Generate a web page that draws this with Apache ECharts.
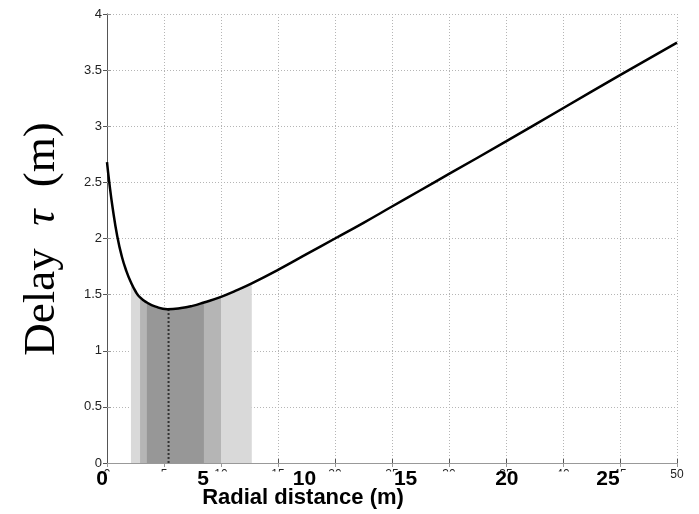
<!DOCTYPE html>
<html>
<head>
<meta charset="utf-8">
<script src="https://cdn.jsdelivr.net/npm/echarts@6/dist/echarts.min.js"></script>
<style>
  html, body { margin: 0; padding: 0; background: #fff; }
  #chart { width: 699px; height: 514px; }
</style>
</head>
<body>
<div id="chart"></div>
<script>
// delay curve
const radialX = [0, 0.2, 0.5, 0.9, 1.3, 1.7, 2.1, 2.5, 2.9, 3.5, 4.2, 5.3, 6.5, 7.5, 8.5, 10, 11.3, 12.7, 15, 17.5, 20, 22.5, 25, 27.5, 30, 35, 40, 45, 50];
const delayY = [2.68, 2.5, 2.27, 2.02, 1.84, 1.71, 1.61, 1.53, 1.475, 1.43, 1.395, 1.37, 1.38, 1.4, 1.43, 1.48, 1.535, 1.6, 1.72, 1.86, 2.0, 2.14, 2.285, 2.43, 2.575, 2.865, 3.16, 3.455, 3.745];

// shaded ranges under the curve [from, to]
const bandLight = [2.1, 12.7];
const bandMid = [2.9, 10];
const bandDark = [3.5, 8.5];
const minMarkerX = 5.4;
const minMarkerY = 1.37;

const yTicks = [0, 0.5, 1, 1.5, 2, 2.5, 3, 3.5, 4];
const boldTicks = ['0', '5', '10', '15', '20', '25'];

const curve = radialX.map((x, i) => [x, delayY[i]]);
const band = (r) => curve.filter(p => p[0] >= r[0] && p[0] <= r[1]);

const myChart = echarts.init(document.getElementById('chart'));

const gridLine = { show: true, lineStyle: { color: '#b5b5b5', type: [1, 2], width: 1 } };
const areaSeries = (data, color) => ({
  type: 'line', data, smooth: 0.5, symbol: 'none', silent: true,
  lineStyle: { width: 0 }, areaStyle: { color, opacity: 1 }, z: 1
});

myChart.setOption({
  animation: false,
  grid: [
    { left: 107, right: 22, top: 14, bottom: 51 },
    { left: 102, right: 27, top: 14, bottom: 51 }
  ],
  xAxis: [
    {
      gridIndex: 0, type: 'value', min: 0, max: 50, interval: 5,
      axisLine: { lineStyle: { color: '#555' } },
      axisTick: { inside: true, length: 4, lineStyle: { color: '#555' } },
      axisLabel: { color: '#222', fontSize: 12, margin: 6, fontFamily: 'Liberation Sans' },
      splitLine: gridLine
    },
    {
      gridIndex: 0, type: 'value', position: 'top', min: 0, max: 50, interval: 5,
      axisLine: { lineStyle: { color: '#999' } },
      axisTick: { inside: true, length: 4, lineStyle: { color: '#999' } },
      axisLabel: { show: false }, splitLine: { show: false }
    },
    {
      gridIndex: 1, type: 'value', min: 0, max: 28.16, interval: 5, z: 50,
      axisLine: { show: false }, axisTick: { show: false }, splitLine: { show: false },
      axisLabel: {
        showMaxLabel: false, margin: 6, color: '#000', fontSize: 21, fontWeight: 'bold',
        fontFamily: 'Liberation Sans',
        formatter: (v) => boldTicks.includes(String(v)) ? String(v) : ''
      }
    }
  ],
  yAxis: [
    {
      gridIndex: 0, type: 'value', min: 0, max: 4, interval: 0.5,
      axisLine: { show: true, lineStyle: { color: '#999' } },
      axisTick: { show: true, inside: true, length: 4, lineStyle: { color: '#999' } },
      axisLabel: {
        color: '#222', fontSize: 13, margin: 5, fontFamily: 'Liberation Sans',
        formatter: (v) => yTicks.includes(v) ? String(v) : ''
      },
      splitLine: gridLine
    },
    {
      gridIndex: 0, type: 'value', position: 'right', min: 0, max: 4, interval: 0.5,
      axisLine: { show: true, lineStyle: { color: '#555' } },
      axisTick: { show: true, inside: true, length: 4, lineStyle: { color: '#555' } },
      axisLabel: { show: false }, splitLine: { show: false }
    },
    { gridIndex: 1, type: 'value', min: 0, max: 4, show: false }
  ],
  graphic: [
    {
      type: 'rect', z: 40, silent: true,
      shape: { x: 88, y: 471.5, width: 567, height: 43 },
      style: { fill: '#fff' }
    },
    {
      type: 'text', z: 60, x: 303, y: 498,
      style: {
        text: 'Radial distance (m)', fill: '#000', align: 'center', verticalAlign: 'middle',
        font: 'bold 22px "Liberation Sans"'
      }
    },
    {
      type: 'text', z: 60, x: 42, y: 239, rotation: Math.PI / 2,
      style: {
        text: 'Delay  {t|τ}  (m)', fill: '#000', align: 'center', verticalAlign: 'middle',
        font: '45px "Liberation Serif"',
        rich: { t: { fontFamily: 'Liberation Serif', fontStyle: 'italic', fontSize: 45 } }
      }
    }
  ],
  series: [
    areaSeries(band(bandLight), '#d9d9d9'),
    areaSeries(band(bandMid), '#b5b5b5'),
    areaSeries(band(bandDark), '#979797'),
    {
      type: 'line', data: [[minMarkerX, 0], [minMarkerX, minMarkerY]], symbol: 'none', silent: true,
      lineStyle: { color: '#333', width: 2, type: [2, 2] }, z: 2
    },
    {
      type: 'line', data: curve, smooth: 0.5, symbol: 'none', silent: true,
      lineStyle: { color: '#000', width: 2.5 }, z: 3
    }
  ]
});

window.addEventListener('resize', () => {
  myChart.resize();
});
</script>
</body>
</html>
